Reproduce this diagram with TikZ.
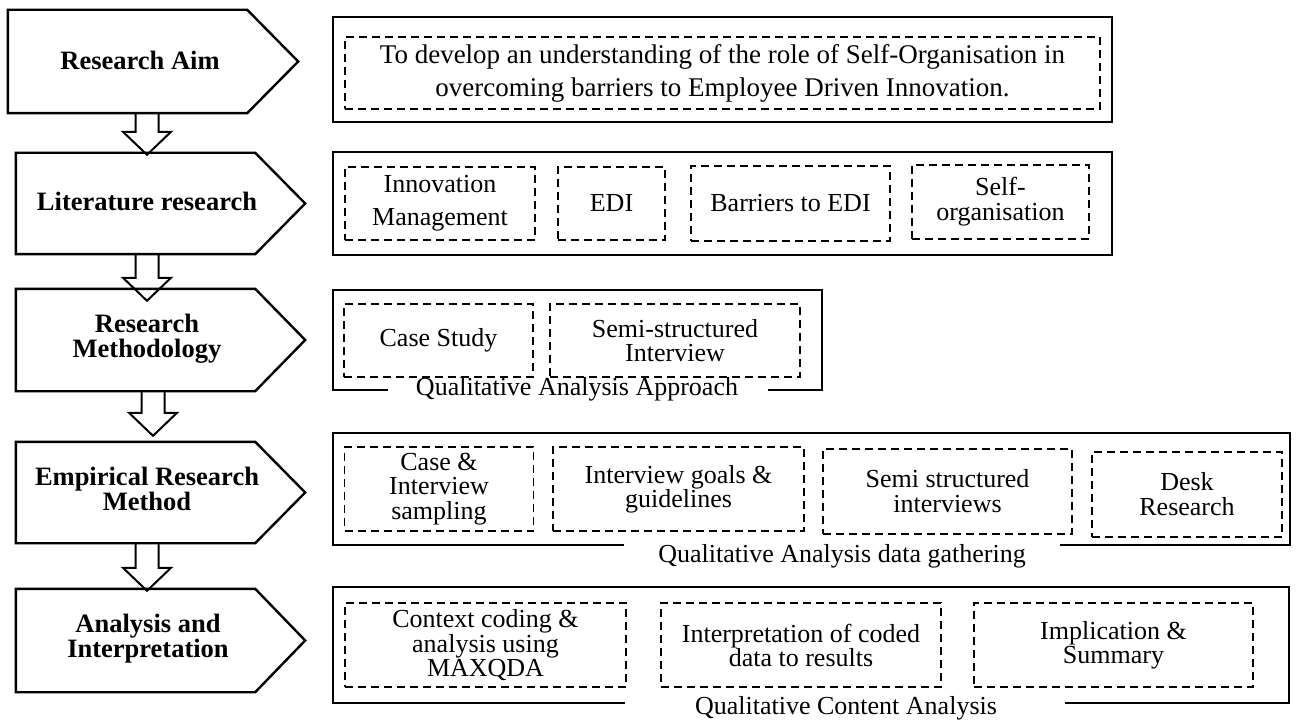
\documentclass[tikz,border=0pt]{standalone}
\usepackage{fontspec}
\setmainfont{Liberation Serif}
\usetikzlibrary{calc}

% pentagon outline around a stage node (rectangle part + pointer to the right)
\newcommand\stageshape[2]{%
  \draw[pentagon] (#1.north west) -- (#1.north east) -- ($(#1.east)+(#2,0)$)
    -- (#1.south east) -- (#1.south west) -- cycle;}

% hollow block arrow pointing down: #1 = top of shaft, #2 = tip
\newcommand\blockdown[2]{%
  \draw[blockarrow] let \p1=#1, \p2=#2 in
    (\x1-11.5pt,\y1) -- (\x1-11.5pt,\y2+23pt) -- (\x1-24pt,\y2+23pt) -- (\x1,\y2)
    -- (\x1+24pt,\y2+23pt) -- (\x1+11.5pt,\y2+23pt) -- (\x1+11.5pt,\y1);}

\begin{document}
\begin{tikzpicture}[x=1pt,y=-1pt,
  stage/.style={draw=none, minimum width=239pt, inner sep=0pt},
  stagetext/.style={font=\fontsize{26.5}{25}\selectfont\bfseries, align=center, inner sep=0pt},
  pentagon/.style={line width=2.4pt, line join=miter},
  blockarrow/.style={line width=2pt, line join=miter},
  frame/.style={draw, line width=2pt, inner sep=0pt},
  openframe/.style={draw=none, inner sep=0pt},
  framepath/.style={line width=2pt, line join=miter},
  item/.style={draw, line width=1.8pt, dash pattern=on 8pt off 5pt, inner sep=0pt,
    align=center, font=\fontsize{26}{24}\selectfont},
  caption/.style={font=\fontsize{26}{24}\selectfont, inner sep=0pt}
]
\useasboundingbox (0,0) rectangle (1299,722);

% ---------------- stages on the left ----------------
\node[stage, minimum height=103pt] (s1) at (127.5,61.5) {};
\node[stage, minimum height=101pt] (s2) at (135.5,203.5) {};
\node[stage, minimum height=102pt] (s3) at (135.5,340) {};
\node[stage, minimum height=101pt] (s4) at (135.5,492.5) {};
\node[stage, minimum height=103pt] (s5) at (135.5,640.5) {};

\stageshape{s1}{51}
\stageshape{s2}{50}
\stageshape{s3}{50}
\stageshape{s4}{50}
\stageshape{s5}{50}

\node[stagetext] (t1) at (140,60) {Research Aim};
\node[stagetext] (t2) at (147,201) {Literature research};
\node[stagetext] (t3) at (147,339) {Research\\Methodology};
\node[stagetext] (t4) at (147,489) {Empirical Research\\Method};
\node[stagetext] (t5) at (148,639) {Analysis and\\Interpretation};

% ---------------- block arrows between stages ----------------
\blockdown{(t2 |- s1.south)}{($(t2 |- s2.north)+(0,2)$)}
\blockdown{(t2 |- s2.south)}{($(t2 |- s3.north)+(0,12)$)}
\blockdown{($(t3 |- s3.south)+(6,0)$)}{($(t3 |- s4.north)+(6,-6)$)}
\blockdown{(t4 |- s4.south)}{($(t4 |- s5.north)+(0,2)$)}

% ---------------- row 1: research aim ----------------
\node[frame, minimum width=779pt, minimum height=105pt] (r1) at (722.5,69.5) {};
\node[item, minimum width=755pt, minimum height=72pt, font=\fontsize{27}{33}\selectfont] (d1) at (722.5,73)
  {To develop an understanding of the role of Self-Organisation in\\overcoming barriers to Employee Driven Innovation.};

% ---------------- row 2: literature ----------------
\node[frame, minimum width=779pt, minimum height=103pt] (r2) at (722.5,203.5) {};
\node[item, minimum width=190pt, minimum height=73pt, font=\fontsize{26}{33}\selectfont] (d21) at (440,203.5) {Innovation\\Management};
\node[item, minimum width=107pt, minimum height=73pt] (d22) at (611.5,203.5) {EDI};
\node[item, minimum width=199pt, minimum height=75pt] (d23) at (790.5,203.5) {Barriers to EDI};
\node[item, minimum width=177pt, minimum height=74pt, font=\fontsize{26}{25}\selectfont] (d24) at (1000.5,202) {Self-\\organisation};

% ---------------- row 3: methodology ----------------
\node[openframe, minimum width=489pt, minimum height=100pt] (r3) at (577.5,340) {};
\draw[framepath] ($(r3.south west)+(55,0)$) -- (r3.south west) -- (r3.north west)
  -- (r3.north east) -- (r3.south east) -- ++(-54,0);
\node[item, minimum width=189pt, minimum height=73pt] (d31) at (438.5,340.5) {Case Study};
\node[item, minimum width=250pt, minimum height=73pt] (d32) at (675,340.5) {Semi-structured\\Interview};
\node[caption] (c3) at (577,389.5) {Qualitative Analysis Approach};

% ---------------- row 4: empirical method ----------------
\node[openframe, minimum width=957pt, minimum height=112pt] (r4) at (811.5,489) {};
\draw[framepath] ($(r4.south west)+(291,0)$) -- (r4.south west) -- (r4.north west)
  -- (r4.north east) -- (r4.south east) -- ++(-230,0);
\node[item, minimum width=189pt, minimum height=84pt, font=\fontsize{26}{24.5}\selectfont] (d41) at (439,489) {Case \&\\Interview\\sampling};
\node[item, minimum width=251pt, minimum height=84pt] (d42) at (678.5,489) {Interview goals \&\\guidelines};
\node[item, minimum width=249pt, minimum height=85pt, font=\fontsize{26}{25}\selectfont] (d43) at (947.5,491.5) {Semi structured\\interviews};
\node[item, minimum width=190pt, minimum height=85pt, font=\fontsize{26}{25}\selectfont] (d44) at (1187,494.5) {Desk\\Research};
\node[caption] (c4) at (842,556) {Qualitative Analysis data gathering};

% ---------------- row 5: analysis ----------------
\node[openframe, minimum width=956pt, minimum height=116pt] (r5) at (811,645) {};
\draw[framepath] ($(r5.south west)+(292,0)$) -- (r5.south west) -- (r5.north west)
  -- (r5.north east) -- (r5.south east) -- ++(-224,0);
\node[item, minimum width=281pt, minimum height=84pt, font=\fontsize{26}{22}\selectfont] (d51) at (485.5,645) {Context coding \&\\analysis using\\MAXQDA};
\node[item, minimum width=280pt, minimum height=84pt] (d52) at (801,645) {Interpretation of coded\\data to results};
\node[item, minimum width=279pt, minimum height=84pt] (d53) at (1113.5,645) {Implication \&\\Summary};
\node[caption] (c5) at (846,708) {Qualitative Content Analysis};

\end{tikzpicture}
\end{document}
